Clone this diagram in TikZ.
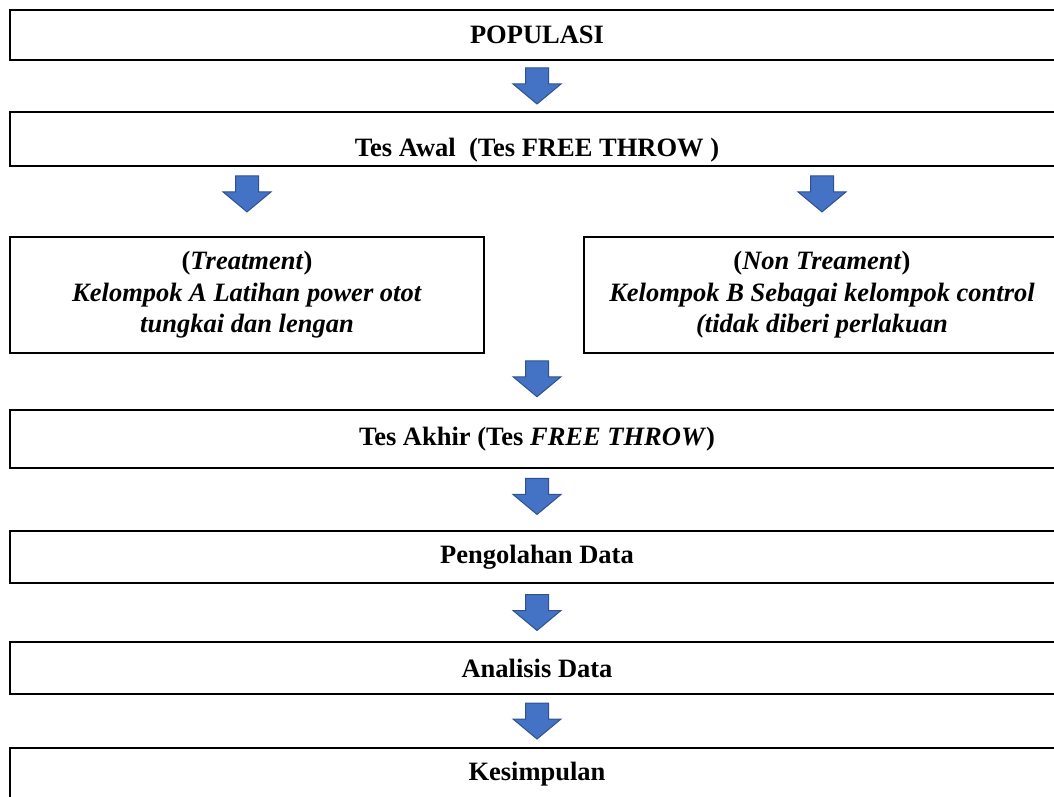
\documentclass[tikz,border=0pt]{standalone}
\usepackage{fontspec}
\setmainfont{Liberation Serif}
\usetikzlibrary{calc}
\definecolor{panahbiru}{HTML}{4472C4}
\definecolor{panahtepi}{HTML}{2F528F}
\tikzstyle{kotak}=[
	rectangle,
	draw=black,
	line width=2pt,
	inner sep=0pt,
	align=center,
	font=\fontsize{26.5}{31.5}\selectfont\bfseries
]
\tikzstyle{lebar}=[
	kotak,
	minimum width=1054pt
]
\tikzset{panah/.pic={
	\filldraw[fill=panahbiru, draw=panahtepi, line width=1pt]
		(-11.5,-18) -- (11.5,-18) -- (11.5,-2) -- (24,-2) -- (0,18)
		-- (-24,-2) -- (-11.5,-2) -- cycle;
}}

\begin{document}
\begin{tikzpicture}[x=1pt, y=-1pt]
\useasboundingbox (0,0) rectangle (1054,797);
\node [lebar, minimum height=50pt] (Populasi) at (537,35) {POPULASI};
\node [lebar, minimum height=54pt, text height=42pt, text depth=6pt] (TesAwal) at (537,139)
	{Tes Awal\ \ (Tes FREE THROW )};
\node [kotak, minimum width=474pt, minimum height=116pt] (Perlakuan) at (247,295)
	{(\textit{Treatment})\\ \textit{Kelompok A Latihan power otot}\\ \textit{tungkai dan lengan}};
\node [kotak, minimum width=476pt, minimum height=116pt] (Kontrol) at (822,295)
	{(\textit{Non Treament})\\ \textit{Kelompok B Sebagai kelompok control}\\ \textit{(tidak diberi perlakuan}};
\node [lebar, minimum height=58pt] (TesAkhir) at (537,439) {Tes Akhir (Tes \textit{FREE THROW})};
\node [lebar, minimum height=52pt] (Pengolahan) at (537,557) {Pengolahan Data};
\node [lebar, minimum height=52pt] (Analisis) at (537,668) {Analisis Data};
\node [lebar, minimum height=52pt] (Kesimpulan) at (537,774) {Kesimpulan};

% panah blok
\pic at ($(Populasi.south)!0.5!(TesAwal.north)$) {panah};
\pic at ($(TesAwal.south -| Perlakuan)!0.39!(Perlakuan.north)$) {panah};
\pic at ($(TesAwal.south -| Kontrol)!0.39!(Kontrol.north)$) {panah};
\pic at ($(Perlakuan.south -| TesAkhir)!0.45!(TesAkhir.north)$) {panah};
\pic at ($(TesAkhir.south)!0.45!(Pengolahan.north)$) {panah};
\pic at ($(Pengolahan.south)!0.5!(Analisis.north)$) {panah};
\pic at ($(Analisis.south)!0.5!(Kesimpulan.north)$) {panah};
\end{tikzpicture}
\end{document}
